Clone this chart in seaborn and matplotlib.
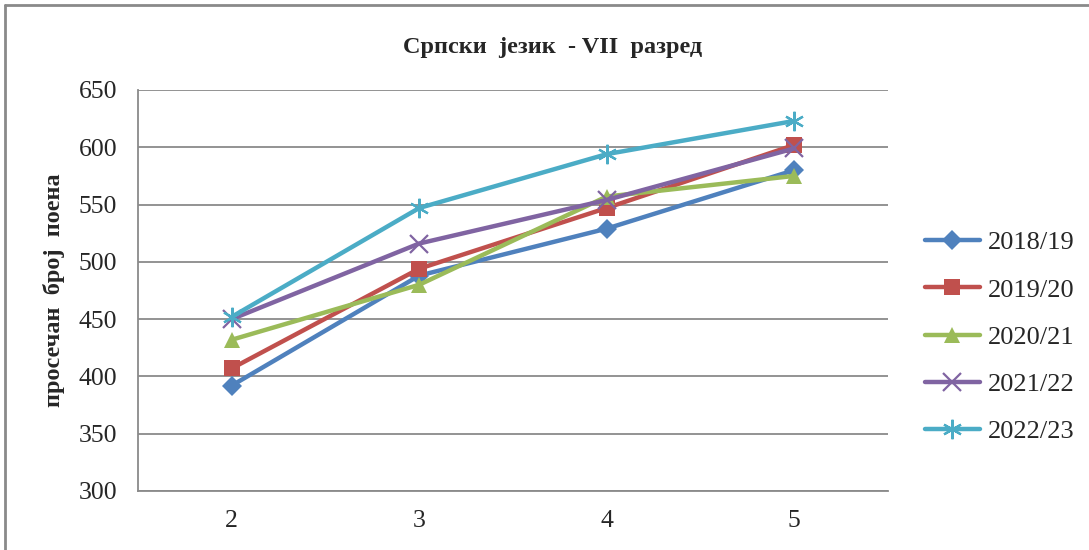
import seaborn as sns
import matplotlib.pyplot as plt
import pandas as pd
from matplotlib.lines import Line2D

# values
grades = [2, 3, 4, 5]
years = ['2018/19', '2019/20', '2020/21', '2021/22', '2022/23']
y2018 = [392, 488, 529, 580]
y2019 = [407, 494, 547, 602]
y2020 = [432, 480, 557, 575]
y2021 = [450, 516, 554, 599]
y2022 = [452, 547, 594, 623]

colors = ['#4F81BD', '#C0504D', '#9BBB59', '#8064A2', '#4BACC6']
markers = ['D', 's', '^', 'x', (6, 2, 0)]
msizes = [10, 11, 11, 13, 14]

sns.set_style('white')
plt.rcParams['font.family'] = ['Liberation Serif', 'DejaVu Serif']

fig = plt.figure(figsize=(10.89, 5.5), dpi=100)
ax = fig.add_axes([0.1267, 0.1073, 0.6887, 0.7291])

for year, vals, c, m, ms in zip(years, [y2018, y2019, y2020, y2021, y2022],
                                colors, markers, msizes):
    df = pd.DataFrame({'grade': grades, 'score': vals})
    ew = 1.6 if m in ('x', (6, 2, 0)) else 0
    sns.lineplot(data=df, x='grade', y='score', color=c, marker=m,
                 markersize=ms, markeredgewidth=ew, markeredgecolor=c,
                 linewidth=3.2, ax=ax, label=year)

ax.set_xlim(1.5, 5.5)
ax.set_ylim(300, 650)
ax.set_xticks(grades)
ax.set_yticks(range(300, 651, 50))
ax.tick_params(axis='both', labelsize=18.5, length=0)
ax.tick_params(axis='y', pad=15)
ax.tick_params(axis='x', pad=14)
ax.grid(axis='y', color='#8a8a8a', linewidth=1.3)
ax.set_axisbelow(True)
for s in ['top', 'right']:
    ax.spines[s].set_visible(False)
for s in ['left', 'bottom']:
    ax.spines[s].set_color('#8a8a8a')
    ax.spines[s].set_linewidth(1.3)

ax.set_xlabel('')
ax.set_ylabel('просечан  број  поена', fontsize=17.5, fontweight='bold', labelpad=10)
fig.text(0.507, 0.914, 'Српски  језик  - VII  разред', ha='center', va='center',
         fontsize=17.5, fontweight='bold')

handles, labels = ax.get_legend_handles_labels()
ax.get_legend().remove()
fig.legend(handles, labels, loc='center left', bbox_to_anchor=(0.849, 0.387),
           frameon=False, fontsize=19, handlelength=2.1, handletextpad=0.3,
           labelspacing=0.9, borderaxespad=0, borderpad=0)

# outer chart frame (top and left edges visible)
fig.add_artist(Line2D([0.0046, 1.0], [0.991, 0.991], color='#8a8a8a', linewidth=2))
fig.add_artist(Line2D([0.0046, 0.0046], [0.0, 0.991], color='#8a8a8a', linewidth=2))

plt.savefig('out.png', dpi=100)
